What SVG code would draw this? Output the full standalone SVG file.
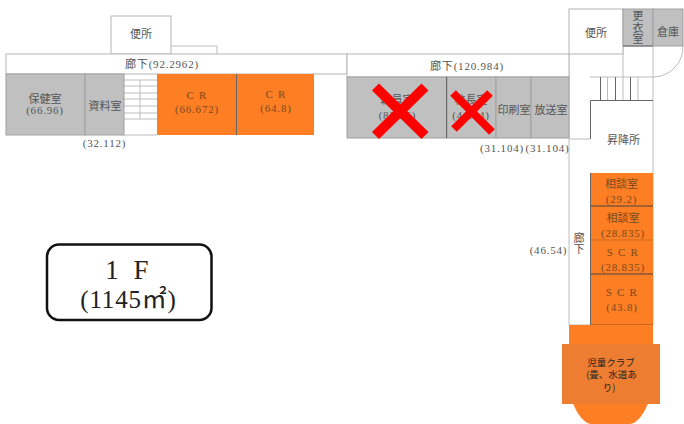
<svg xmlns="http://www.w3.org/2000/svg" width="684" height="424" viewBox="0 0 684 424">
<style>
text{font-family:"Liberation Serif","Noto Sans CJK JP",serif;font-size:11px;fill:#555;text-anchor:middle}
.n{letter-spacing:.8px}
.s{letter-spacing:1.2px}
.t{fill:#7a4a20}
.c{font-family:"Noto Sans CJK JP",sans-serif;font-size:9.5px;fill:#222}
.l{fill:none;stroke:#bdbdbd;stroke-width:1}
.d{fill:none;stroke:#666;stroke-width:1}
.g{fill:#c0c0c0;stroke:#a0a0a0}
.o{fill:#fd7e23}
.w{fill:#fff;stroke:#b5b5b5}
.x{stroke:#f00;fill:none}
.b{fill:#222}
</style>
<rect width="684" height="424" fill="#fff"/>
<g id="connectors">
<path class="l" d="M171 46H217V54"/>
<path class="l" d="M124 80H157M124 86H157M124 93H157M124 99H157M124 106H157M124 113H157M124 119H157M140 80V119M124 135H157"/>
<path class="l" d="M569 54V325M653 46V325"/>
<path class="l" d="M590 77H653M607.500 77V100M623 46V100M638 77V100"/>
<path class="d" d="M600.500 77V100M615.500 77V100M630.500 77V100"/>
<path class="l" d="M653 77A30 30 0 0 0 683 46"/>
<path class="l" d="M569 139H590"/>
<path class="d" d="M590.500 139V100.500H653"/>
</g>
<g id="n-toilet-1"><rect class="w" x="111" y="16" width="60" height="38"/><text x="141" y="38">便所</text></g>
<g id="n-corridor-1"><rect class="w" x="6" y="54" width="341" height="20"/><text class="n" x="162" y="68">廊下(92.2962)</text></g>
<g id="n-health"><rect class="g" x="6" y="74" width="79" height="61"/><text x="45" y="103">保健室</text><text class="n" x="45" y="114">(66.96)</text></g>
<g id="n-materials"><rect class="g" x="85" y="74" width="39" height="61"/><text x="105" y="110">資料室</text><text class="n" x="104.500" y="147">(32.112)</text></g>
<g id="n-cr1"><rect class="o" x="157" y="74" width="80" height="61"/><text class="t s" x="197" y="99">C R</text><text class="t n" x="197" y="113">(66.672)</text></g>
<g id="n-cr2"><rect class="o" x="237" y="74" width="77" height="61"/><text class="t s" x="276" y="98">C R</text><text class="t n" x="276" y="112">(64.8)</text><path class="d" d="M236.500 74V135"/></g>
<g id="n-corridor-2"><rect class="w" x="347" y="54" width="222" height="23"/><text class="n" x="467" y="70">廊下(120.984)</text></g>
<g id="n-staff"><rect class="g" x="347" y="77" width="100" height="61"/><text x="397" y="104">職員室</text><text class="n" x="397.500" y="119">(82.56)</text></g>
<g id="n-principal"><rect class="g" x="447" y="77" width="49" height="61"/><text x="471" y="104">校長室</text><text class="n" x="471" y="119">(41.04)</text><path class="d" d="M446.500 77V138"/></g>
<g id="n-print"><rect class="g" x="496" y="77" width="35" height="61"/><text x="514" y="114">印刷室</text><text class="n" x="502" y="152">(31.104)</text></g>
<g id="n-broadcast"><rect class="g" x="531" y="77" width="38" height="61"/><text x="551" y="114">放送室</text><text class="n" x="547.500" y="152">(31.104)</text></g>
<g id="n-toilet-2"><rect class="w" x="569" y="9" width="54" height="45"/><text x="596" y="37">便所</text></g>
<g id="n-changing"><rect class="g" x="623" y="9" width="30" height="37" stroke="#777"/><text x="638" y="20">更</text><text x="638" y="31.500">衣</text><text x="638" y="43">室</text><path class="d" d="M623 46H653"/></g>
<g id="n-storage"><rect class="g" x="653" y="9" width="30" height="37"/><text x="668" y="36">倉庫</text></g>
<g id="n-entrance"><text x="623.500" y="144">昇降所</text></g>
<g id="n-corridor-3"><text x="579" y="241.500">廊</text><text x="579" y="253">下</text><text class="n" x="548.500" y="254">(46.54)</text><path class="l" d="M569 325H590"/><path d="M590.500 173V325" stroke="#666" fill="none"/></g>
<g id="n-consult1"><rect class="o" x="591" y="173" width="62" height="33"/><text class="t" x="621.500" y="188">相談室</text><text class="t n" x="621.500" y="202.500">(29.2)</text></g>
<g id="n-consult2"><rect class="o" x="591" y="206" width="62" height="34"/><text class="t" x="623" y="222">相談室</text><text class="t n" x="623" y="236.500">(28.835)</text><path d="M591 206H653" stroke="#444"/></g>
<g id="n-scr1"><rect class="o" x="591" y="240" width="62" height="34"/><text class="t s" x="623" y="256">S C R</text><text class="t n" x="623" y="270.500">(28.835)</text><path d="M591 240H653" stroke="#c96a20"/></g>
<g id="n-scr2"><rect class="o" x="591" y="274" width="62" height="51"/><text class="t s" x="622" y="296">S C R</text><text class="t n" x="622" y="310.500">(43.8)</text><path d="M591 274H653" stroke="#444"/><path d="M591 324.500H653" stroke="#c96a20"/></g>
<g id="n-club">
<rect class="o" x="569" y="325" width="84" height="20"/>
<path class="o" d="M572 400H649C645 414 636 424 630 424H591C585 424 576 414 572 400Z"/>
<rect x="562" y="344" width="98" height="60" fill="#ed7d31"/>
<text class="c" x="611" y="365.500">児童クラブ</text><text class="c" x="611.500" y="378">(畳、水道あ</text><text class="c" x="609" y="390.500">り)</text>
</g>
<g id="n-floor"><rect x="47" y="244.500" width="164.500" height="75.500" rx="12" fill="#fff" stroke="#111" stroke-width="2.500"/><text class="b" x="129" y="279" style="font-size:27px;letter-spacing:4px">1 F</text><text class="b" x="128.500" y="308" style="font-size:25px;letter-spacing:.8px">(1145㎡)</text></g>
<g id="marks"><path class="x" stroke-width="10" d="M375.500 87L425 135.500M425 87L375.500 135.500"/><path class="x" stroke-width="8" d="M453 93L492 132M490 93L454 129"/></g>
</svg>
